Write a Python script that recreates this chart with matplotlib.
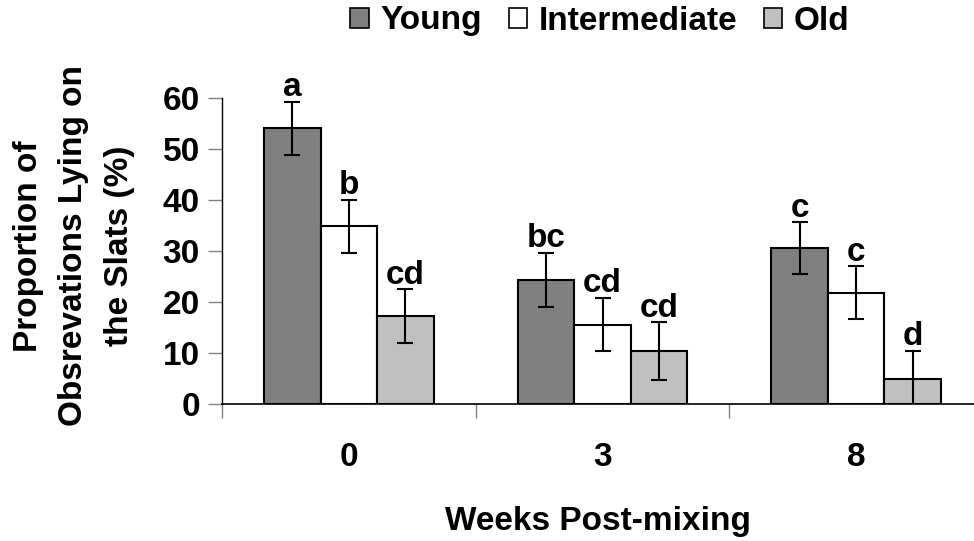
import matplotlib
matplotlib.use("Agg")
import matplotlib.pyplot as plt
import numpy as np
from matplotlib.patches import Patch

plt.rcParams['font.family'] = ['Liberation Sans', 'DejaVu Sans']
plt.rcParams['font.weight'] = 'bold'

weeks = ["0", "3", "8"]
series = ["Young", "Intermediate", "Old"]
young = [54.1, 24.4, 30.6]
intermediate = [34.9, 15.6, 21.8]
old = [17.2, 10.4, 5.0]
young_err = [5.2, 5.3, 5.1]
intermediate_err = [5.2, 5.2, 5.2]
old_err = [5.3, 5.6, 5.4]
young_letters = ["a", "bc", "c"]
intermediate_letters = ["b", "cd", "c"]
old_letters = ["cd", "cd", "d"]
colors = ["#808080", "#ffffff", "#c0c0c0"]
ylabel_lines = ["Proportion of", "Obsrevations Lying on", "the Slats (%)"]

FS = 24

fig = plt.figure(figsize=(9.74, 5.41), dpi=100)
ax = fig.add_axes([222/974, (541-404)/541, (983-222)/974, (404-98.3)/541])

x = np.arange(len(weeks))
w = 0.223
data = [young, intermediate, old]
errs = [young_err, intermediate_err, old_err]
letters = [young_letters, intermediate_letters, old_letters]
for i, (vals, e, lab, c, lets) in enumerate(zip(data, errs, series, colors, letters)):
    pos = x + (i - 1) * w
    ax.bar(pos, vals, width=w, color=c, edgecolor='black', linewidth=1.5, zorder=2)
    ax.errorbar(pos, vals, yerr=e, fmt='none', ecolor='black', elinewidth=1.5,
                capsize=6, capthick=1.5, zorder=3)
    for p, v, ee, t in zip(pos, vals, e, lets):
        ax.annotate(t, (p, v + ee), xytext=(0, 4), textcoords='offset points',
                    ha='center', va='baseline', fontsize=FS, fontweight='bold')

ax.set_xlim(-0.5, 2.5)
ax.set_ylim(0, 60)
ax.set_yticks([0, 10, 20, 30, 40, 50, 60])
ax.set_xticks([-0.5, 0.5, 1.5, 2.5])
ax.set_xticklabels([])
ax.set_xticks(x, minor=True)
ax.set_xticklabels(weeks, minor=True, fontsize=FS, fontweight='bold')
ax.tick_params(axis='x', which='minor', length=0, pad=27)
ax.tick_params(axis='x', which='major', length=10, width=1, color='#808080', direction='out')
ax.tick_params(axis='y', length=10, width=1, color='#808080', direction='out', pad=6,
               labelsize=FS)
for t in ax.get_yticklabels():
    t.set_fontweight('bold')
for s in ['top', 'right']:
    ax.spines[s].set_visible(False)
ax.spines['left'].set_linewidth(1)
ax.spines['bottom'].set_linewidth(1.2)
ax.set_facecolor('none')

fig.text(598/974, 1 - 530/541, "Weeks Post-mixing", ha='center', va='baseline',
         fontsize=FS, fontweight='bold')
for bx, line in zip([37.5, 82.5, 128.0], ylabel_lines):
    fig.text(bx/974, 1 - 246/541, line, ha='center', va='baseline', rotation=90,
             rotation_mode='anchor', fontsize=FS, fontweight='bold')

handles = [Patch(facecolor=c, edgecolor='black', linewidth=1.2) for c in colors]
fig.legend(handles, series, loc='center', bbox_to_anchor=(600/974, 1 - 21/541),
           ncol=3, frameon=False, prop={'weight': 'bold', 'size': FS},
           handlelength=0.55, handleheight=0.55, handletextpad=0.35,
           columnspacing=0.8, borderpad=0)

fig.savefig("out.png", dpi=100)
